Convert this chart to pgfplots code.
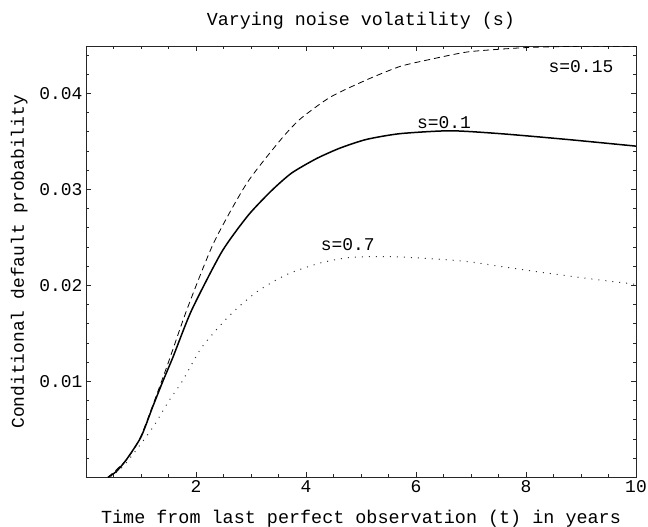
\documentclass[border=0pt]{standalone}
\usepackage{fontspec}
\setmainfont{Liberation Mono}
\usepackage{pgfplots}
\pgfplotsset{compat=1.18}
\begin{document}
\begin{tikzpicture}
\begin{axis}[
  scale only axis,
  width=550bp, height=431bp,
  xmin=0, xmax=10, ymin=0, ymax=0.0449,
  font=\fontsize{18}{21}\selectfont,
  title style={yshift=7bp},
  xlabel style={font=\fontsize{18.5}{21}\selectfont},
  ylabel style={font=\fontsize{18}{21}\selectfont},
  xlabel shift=10bp,
  ylabel shift=5bp,
  axis line style={line width=0.8bp, black!85},
  tick align=inside,
  tick style={line width=0.6bp, black!85},
  major tick length=5bp, minor tick length=3bp,
  xtick={2,4,6,8,10}, xticklabels={2,4,6,8,10},
  ytick={0.01,0.02,0.03,0.04}, yticklabels={0.01,0.02,0.03,0.04},
  minor xtick={0,0.5,...,10},
  minor ytick={0,0.002,...,0.044},
  scaled y ticks=false,
  title={\fontsize{18.4}{21}\selectfont Varying noise volatility (s)},
  xlabel={Time from last perfect observation (t) in years},
  ylabel={Conditional default probability},
  clip=true,
]
% s = 0.1 (solid)
\addplot[black, line width=1.5bp, smooth, tension=0.4] coordinates {
(0.40,0) (0.55,0.0006) (0.73,0.0018) (1.00,0.0042) (1.21,0.0073) (1.39,0.0099)
(1.58,0.0125) (1.92,0.0174) (2.47,0.0235) (2.95,0.0273) (3.38,0.0299) (3.74,0.0317)
(4.19,0.0332) (4.62,0.0343) (5.10,0.0352) (5.71,0.0358) (6.62,0.0361) (7.53,0.0358)
(8.74,0.0352) (10,0.0345)
};
% s = 0.15 (dashed)
\addplot[black, line width=0.8bp, dash pattern=on 6bp off 4bp, smooth, tension=0.4] coordinates {
(0.40,0) (0.73,0.0018) (1.00,0.0043) (1.45,0.0112) (1.83,0.0174) (2.32,0.0244)
(2.92,0.0306) (3.53,0.0351) (3.89,0.0373) (4.44,0.0396) (5.10,0.0414) (5.71,0.0428)
(6.31,0.0436) (6.92,0.0443) (7.53,0.0446) (8.13,0.0448) (9.00,0.0449) (10,0.0449)
};
% s = 0.7 (dotted)
\addplot[black!80, line width=1bp, dash pattern=on 1bp off 6bp, smooth, tension=0.4] coordinates {
(0.45,0) (0.70,0.0013) (1.00,0.0035) (1.25,0.0055) (1.50,0.0079) (1.75,0.0100)
(2.10,0.0135) (2.60,0.0168) (3.10,0.0193) (3.64,0.0211) (4.24,0.0223) (4.80,0.0229)
(5.50,0.0230) (6.20,0.0228) (6.90,0.0225) (7.50,0.0220) (8.10,0.0215) (9.00,0.0208)
(10,0.0201)
};
\node at (axis cs:9.0,0.0428) {s=0.15};
\node at (axis cs:6.51,0.0370) {s=0.1};
\node at (axis cs:4.76,0.0242) {s=0.7};
\end{axis}
\pgfresetboundingbox
\path ([shift={(-86bp,-49.7bp)}]current axis.south west) rectangle ([shift={(12bp,46.3bp)}]current axis.north east);
\end{tikzpicture}
\end{document}
